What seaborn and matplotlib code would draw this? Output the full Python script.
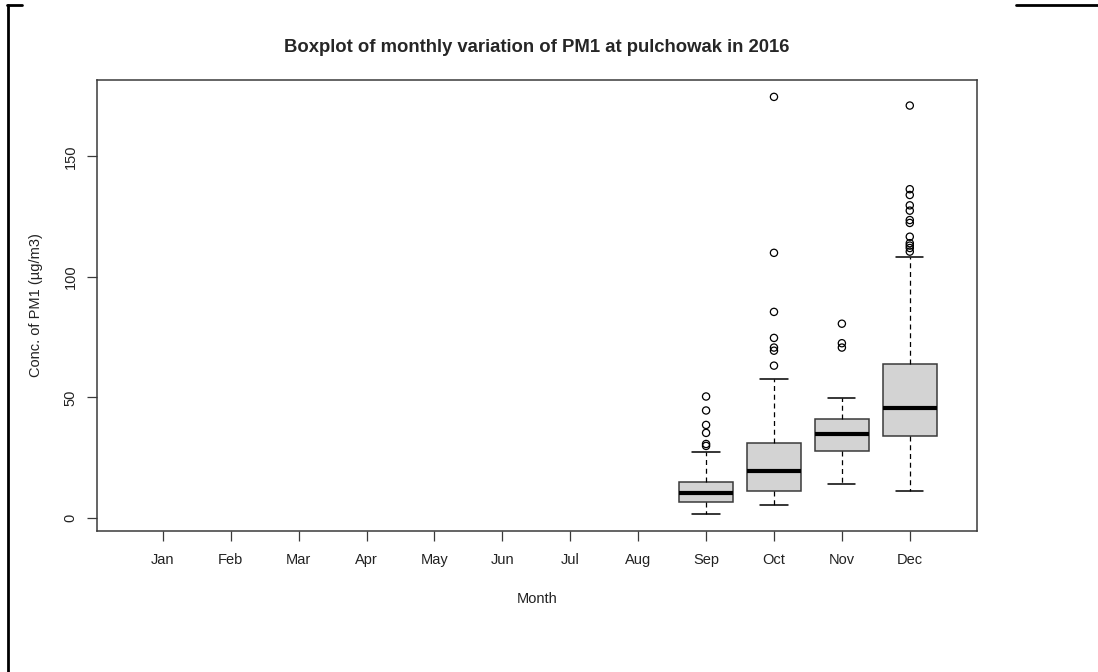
import matplotlib
matplotlib.use("Agg")
import matplotlib.pyplot as plt
import matplotlib.lines as mlines
import pandas as pd
import seaborn as sns

# months on the x axis (only Sep-Dec have data)
months = ["Jan", "Feb", "Mar", "Apr", "May", "Jun",
          "Jul", "Aug", "Sep", "Oct", "Nov", "Dec"]
data_months = ["Sep", "Oct", "Nov", "Dec"]

# box statistics (ug/m3)
whisker_low = [1.6, 5.2, 14.3, 11.2]
q1 = [6.8, 11.3, 27.9, 34.2]
median = [10.3, 19.6, 35.0, 45.7]
q3 = [15.1, 31.0, 40.9, 63.9]
whisker_high = [27.4, 57.5, 49.9, 108.4]

# outliers per month
out_sep = [50.4, 44.6, 38.6, 35.3, 30.7, 29.9]
out_oct = [174.7, 110.0, 85.5, 74.7, 70.7, 69.4, 63.2]
out_nov = [80.6, 72.5, 70.7]
out_dec = [171.1, 136.4, 134.0, 129.7, 127.5, 123.6, 122.4,
           116.7, 114.0, 113.0, 112.0, 110.5]

sns.set_style("white")
plt.rcParams["font.family"] = ["Liberation Sans", "DejaVu Sans"]

fig = plt.figure(figsize=(10.98, 6.72), dpi=100)
ax = fig.add_axes([97 / 1098, 1 - 531 / 672, 880 / 1098, 451 / 672])

# outlier points through seaborn (categorical axis with all 12 months)
outliers = pd.DataFrame({
    "month": ["Sep"] * len(out_sep) + ["Oct"] * len(out_oct)
             + ["Nov"] * len(out_nov) + ["Dec"] * len(out_dec),
    "value": out_sep + out_oct + out_nov + out_dec,
})
sns.stripplot(data=outliers, x="month", y="value", order=months, jitter=False,
              color="black", size=5.2, marker="o", linewidth=0.9,
              edgecolor="black", ax=ax, zorder=3)
for coll in ax.collections:
    coll.set_facecolor("none")
    coll.set_edgecolor("black")

# boxes
stats = []
for i, m in enumerate(data_months):
    stats.append({"label": m, "whislo": whisker_low[i], "q1": q1[i],
                  "med": median[i], "q3": q3[i], "whishi": whisker_high[i],
                  "fliers": []})
pos = [months.index(m) for m in data_months]
ax.bxp(stats, positions=pos, widths=0.8, patch_artist=True, showfliers=False,
       boxprops=dict(facecolor="#d3d3d3", edgecolor="#3a3a3a", linewidth=1.1),
       medianprops=dict(color="black", linewidth=3),
       whiskerprops=dict(color="black", linewidth=0.9, linestyle=(0, (4, 3))),
       capprops=dict(color="black", linewidth=1.1),
       capwidths=0.4, manage_ticks=False)

ax.set_xlim(-0.97, 11.99)
ax.set_ylim(-5.4, 181.7)
ax.set_xticks(range(12))
ax.set_xticklabels(months)
ax.set_yticks([0, 50, 100, 150])
ax.set_yticklabels(["0", "50", "100", "150"], rotation=90, va="center")

for s in ax.spines.values():
    s.set_visible(True)
    s.set_color("#3a3a3a")
    s.set_linewidth(1.1)
ax.tick_params(axis="both", direction="out", length=7, width=0.9,
               color="#3a3a3a", labelsize=10.5, labelcolor="#222222")
ax.tick_params(axis="x", bottom=True, pad=9)
ax.tick_params(axis="y", left=True, pad=7)

ax.set_xlabel("Month", fontsize=10.5, color="#222222", labelpad=18)
ax.set_ylabel("Conc. of PM1 (\u00b5g/m3)", fontsize=10.5, color="#222222",
              labelpad=15)
fig.text(537 / 1098, 1 - 47 / 672,
         "Boxplot of monthly variation of PM1 at pulchowak in 2016",
         ha="center", va="center", fontsize=13.3, fontweight="bold")

# frame lines left from the screenshot crop
fig.add_artist(mlines.Line2D([8 / 1098, 8 / 1098], [0, 1 - 5 / 672],
                             color="black", linewidth=2))
fig.add_artist(mlines.Line2D([7 / 1098, 22 / 1098], [1 - 5 / 672, 1 - 5 / 672],
                             color="black", linewidth=2))
fig.add_artist(mlines.Line2D([1016 / 1098, 1], [1 - 5 / 672, 1 - 5 / 672],
                             color="black", linewidth=2))

fig.savefig("out.png", dpi=100)
